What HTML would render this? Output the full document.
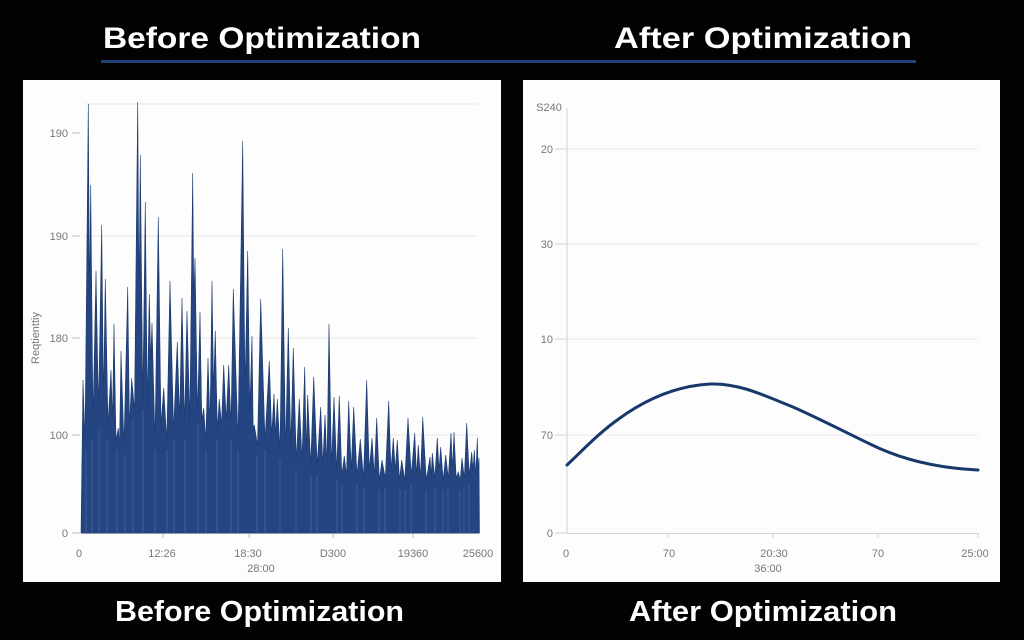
<!DOCTYPE html>
<html>
<head>
<meta charset="utf-8">
<style>
html,body{margin:0;padding:0;background:#000;}
body{width:1024px;height:640px;overflow:hidden;}
svg{display:block;}
.t{font-family:"Liberation Sans",sans-serif;font-weight:bold;fill:#fff;}
.l{font-family:"Liberation Sans",sans-serif;font-size:11px;fill:#777;}
</style>
</head>
<body>
<svg width="1024" height="640" viewBox="0 0 1024 640" xmlns="http://www.w3.org/2000/svg">
<rect x="0" y="0" width="1024" height="640" fill="#020202"/>

<!-- top titles -->
<text class="t" x="103" y="48" font-size="30" textLength="318" lengthAdjust="spacingAndGlyphs">Before Optimization</text>
<text class="t" x="614" y="48" font-size="30" textLength="298" lengthAdjust="spacingAndGlyphs">After Optimization</text>
<rect x="101" y="60" width="815" height="3" fill="#1f4278"/>

<!-- bottom titles -->
<text class="t" x="115" y="621" font-size="29" textLength="289" lengthAdjust="spacingAndGlyphs">Before Optimization</text>
<text class="t" x="629" y="621" font-size="29" textLength="268" lengthAdjust="spacingAndGlyphs">After Optimization</text>

<!-- LEFT PANEL -->
<rect x="23" y="80" width="478" height="502" fill="#fdfdfd"/>
<g stroke="#e8e8e8" stroke-width="1">
<line x1="84" y1="104" x2="478" y2="104"/>
<line x1="84" y1="236" x2="478" y2="236"/>
<line x1="84" y1="338" x2="478" y2="338"/>
<line x1="84" y1="435" x2="478" y2="435"/>
</g>
<g stroke="#bbb" stroke-width="1">
<line x1="72" y1="133" x2="80" y2="133"/>
<line x1="72" y1="236" x2="80" y2="236"/>
<line x1="72" y1="338" x2="80" y2="338"/>
<line x1="72" y1="435" x2="80" y2="435"/>
<line x1="72" y1="533" x2="80" y2="533"/>
<line x1="81" y1="533.5" x2="479" y2="533.5"/>
<line x1="163" y1="533" x2="163" y2="538"/>
<line x1="249" y1="533" x2="249" y2="538"/>
<line x1="333" y1="533" x2="333" y2="538"/>
<line x1="413" y1="533" x2="413" y2="538"/>
</g>
<g class="l" text-anchor="end">
<text x="68" y="137">190</text>
<text x="68" y="240">190</text>
<text x="68" y="342">180</text>
<text x="68" y="439">100</text>
<text x="68" y="537">0</text>
</g>
<text class="l" font-size="10" transform="translate(39,338) rotate(-90)" text-anchor="middle">Reqtienttiy</text>
<g class="l" text-anchor="middle">
<text x="79" y="557">0</text>
<text x="162" y="557">12:26</text>
<text x="248" y="557">18:30</text>
<text x="333" y="557">D300</text>
<text x="413" y="557">19360</text>
<text x="478" y="557">25600</text>
<text x="261" y="572">28:00</text>
</g>

<polygon fill="#244582" stroke="#1d3a6e" stroke-width="0.6" stroke-linejoin="miter" points="
81,533 83,380 85,440 88.3,104 89.5,300 90.7,185 93,420 96,271 98.5,410 101.7,225 103.5,400 105.3,279
108,425 111,370 112.5,420 114,324 116,440 118.3,428 119.5,445 121,351 124,445 127.7,287 129.5,425 131.7,378
134.5,410 137.7,102 139,300 140.3,155 142.8,400 145.3,202 147.3,405 149.3,294 150.7,360 152,323 155,440
158.3,217 161,425 163.7,388 166.8,440 170,281 173.6,430 177.3,342 179.6,420 182,298 184.5,425 187,311
189.8,420 192.7,173 193.8,300 195,258 197.5,415 200,312 201.8,420 203.7,408 205.8,440 208,358 210,425
212,281 213.6,390 215.3,331 217.3,430 219.3,399 221.5,425 223.7,365 226.2,420 228.7,365 231,425 233.3,289
238,440 242.7,141 245,390 247.7,251 249.8,410 252,336 253.2,430 254.3,425 257.5,445 260.7,299 265,440
269.3,361 271.7,435 274,394 275.7,435 277.3,399 280,450 282.7,249 285.5,450 288.3,328 290.8,445 293.3,348
296.3,460 299.3,399 302,460 304.7,367 306.2,450 307.7,395 310.7,465 313.7,377 317.2,465 320.7,407 322.8,465
325,415 327,465 329,324 331.5,465 334,397 336.7,470 339.3,396 341.8,475 344.3,456 346.5,475 348.7,401
351.2,470 353.7,407 357,475 360.3,439 363.5,478 366.7,380 369.3,470 372,438 374.3,475 376.7,418 379.3,480
382,460 385.3,478 388.7,401 391,470 393.3,438 395.3,470 397.3,440 399.5,480 401.7,460 404.8,480 408,418
411.3,475 414.7,433 416.5,475 418.3,445 420.5,478 422.7,417 426.3,480 430,457 431.2,475 432.3,453 434.8,478
437.3,438 439,470 440.7,447 443.2,480 445.7,455 448.3,478 451,433 452.5,470 454,432 456.2,478 458.3,472
460.2,480 462,458 464.3,478 466.7,423 469.2,475 471.7,452 473,470 474.3,450 475.8,475 477.3,438 478.2,470
479,458 479.5,533"/>
<!-- subtle light streaks in the dense area -->
<g stroke="#ffffff" stroke-opacity="0.22" stroke-width="0.6">
<line x1="86" y1="533" x2="86" y2="450"/><line x1="92" y1="533" x2="92" y2="440"/><line x1="99" y1="533" x2="99" y2="430"/>
<line x1="107" y1="533" x2="107" y2="440"/><line x1="117" y1="533" x2="117" y2="450"/><line x1="125" y1="533" x2="125" y2="455"/>
<line x1="133" y1="533" x2="133" y2="420"/><line x1="143" y1="533" x2="143" y2="410"/><line x1="155" y1="533" x2="155" y2="450"/>
<line x1="167" y1="533" x2="167" y2="450"/><line x1="174" y1="533" x2="174" y2="440"/><line x1="185" y1="533" x2="185" y2="440"/>
<line x1="198" y1="533" x2="198" y2="425"/><line x1="206" y1="533" x2="206" y2="450"/><line x1="217" y1="533" x2="217" y2="440"/>
<line x1="231" y1="533" x2="231" y2="440"/><line x1="238" y1="533" x2="238" y2="450"/><line x1="257" y1="533" x2="257" y2="455"/>
<line x1="265" y1="533" x2="265" y2="450"/><line x1="280" y1="533" x2="280" y2="460"/><line x1="296" y1="533" x2="296" y2="470"/>
<line x1="311" y1="533" x2="311" y2="475"/><line x1="317" y1="533" x2="317" y2="475"/><line x1="337" y1="533" x2="337" y2="480"/>
<line x1="342" y1="533" x2="342" y2="485"/><line x1="357" y1="533" x2="357" y2="485"/><line x1="364" y1="533" x2="364" y2="488"/>
<line x1="379" y1="533" x2="379" y2="490"/><line x1="385" y1="533" x2="385" y2="488"/><line x1="400" y1="533" x2="400" y2="490"/>
<line x1="405" y1="533" x2="405" y2="490"/><line x1="411" y1="533" x2="411" y2="485"/><line x1="426" y1="533" x2="426" y2="490"/>
<line x1="435" y1="533" x2="435" y2="488"/><line x1="443" y1="533" x2="443" y2="490"/><line x1="448" y1="533" x2="448" y2="488"/>
<line x1="460" y1="533" x2="460" y2="490"/><line x1="464" y1="533" x2="464" y2="488"/><line x1="469" y1="533" x2="469" y2="485"/>
</g>

<!-- RIGHT PANEL -->
<rect x="523" y="80" width="477" height="502" fill="#fdfdfd"/>
<g stroke="#e6e6e6" stroke-width="1">
<line x1="567" y1="149" x2="978" y2="149"/>
<line x1="567" y1="244" x2="978" y2="244"/>
<line x1="567" y1="339" x2="978" y2="339"/>
<line x1="567" y1="435" x2="978" y2="435"/>
</g>
<g stroke="#d4d4d4" stroke-width="1">
<line x1="567" y1="108" x2="567" y2="533"/>
<line x1="555" y1="149" x2="567" y2="149"/>
<line x1="555" y1="244" x2="567" y2="244"/>
<line x1="555" y1="339" x2="567" y2="339"/>
<line x1="555" y1="435" x2="567" y2="435"/>
<line x1="555" y1="533" x2="567" y2="533"/>
<line x1="567" y1="533.5" x2="978" y2="533.5"/>
<line x1="668" y1="533" x2="668" y2="538"/>
<line x1="773" y1="533" x2="773" y2="538"/>
<line x1="878" y1="533" x2="878" y2="538"/>
<line x1="978" y1="533" x2="978" y2="538"/>
</g>
<text class="l" x="549" y="111" text-anchor="middle" font-size="10">S240</text>
<g class="l" text-anchor="end" font-size="12">
<text x="553" y="153">20</text>
<text x="553" y="248">30</text>
<text x="553" y="343">10</text>
<text x="553" y="439">70</text>
<text x="553" y="537">0</text>
</g>
<g class="l" text-anchor="middle">
<text x="566" y="557">0</text>
<text x="669" y="557">70</text>
<text x="774" y="557">20:30</text>
<text x="878" y="557">70</text>
<text x="975" y="557">25:00</text>
<text x="768" y="572">36:00</text>
</g>
<path d="M567,465 C585,448 600,432 620,418 C645,400 675,386 710,384 C740,383 765,396 793,407 C820,419 845,432 870,444 C900,459 935,468 978,470"
 fill="none" stroke="#17386b" stroke-width="3" stroke-linecap="round"/>
</svg>
</body>
</html>
